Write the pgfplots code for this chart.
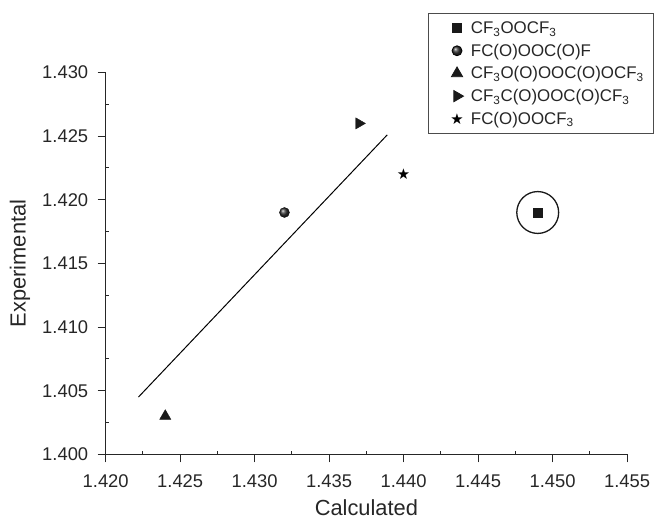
\documentclass[border=0pt]{standalone}
\usepackage{fontspec}
\setmainfont{Liberation Sans}
\newfontfamily\symfont{DejaVu Sans}
\usepackage{pgfplots}
\pgfplotsset{compat=1.18}
\begin{document}
\begin{tikzpicture}
\begin{axis}[
  scale only axis, width=523bp, height=383bp,
  xmin=1.420, xmax=1.455, ymin=1.400, ymax=1.430,
  axis lines*=left,
  axis line style={line width=0.9bp, black!85},
  xtick={1.420,1.425,1.430,1.435,1.440,1.445,1.450,1.455},
  ytick={1.400,1.405,1.410,1.415,1.420,1.425,1.430},
  minor tick num=1,
  tick align=outside,
  major tick length=8bp, minor tick length=-3bp,
  tick style={line width=0.9bp, black!85},
  scaled ticks=false,
  /pgf/number format/.cd, fixed, fixed zerofill, precision=3, assume math mode=true,
  /pgfplots/.cd,
  tick label style={font=\fontsize{18.5}{21}\selectfont, text=black!85},
  xticklabel style={yshift=-9bp},
  yticklabel style={xshift=-6bp},
  xlabel={Calculated}, ylabel={Experimental},
  label style={font=\fontsize{22}{25}\selectfont, text=black!85},
  x label style={at={(axis description cs:0.5,0)}, yshift=-54bp, anchor=center},
  y label style={at={(axis description cs:0,0.5)}, yshift=86bp, anchor=center},
  clip=false,
  legend cell align=left,
  legend image code/.code={\path[draw=none,fill=none] (0bp,0bp) -- (29bp,0bp);
    \draw[#1] plot coordinates {(21bp,0bp)};},
  legend style={at={(rel axis cs:0.6176,1.155)}, anchor=north west,
    draw=black!70, line width=0.8bp, font=\fontsize{17}{20}\selectfont,
    row sep=5bp, column sep=4bp, inner xsep=8bp, inner ysep=6bp, text=black!85},
]
\addplot[black, line width=1bp, forget plot] coordinates {(1.4222,1.4045) (1.4389,1.4251)};
\addplot[only marks, mark=square*, mark size=4.5bp, black!90] coordinates {(1.449,1.419)};
\addlegendentry{CF\textsubscript{3}OOCF\textsubscript{3}}
\addplot[only marks, mark=ball, mark size=5bp, ball color=black!80] coordinates {(1.432,1.419)};
\addlegendentry{FC(O)OOC(O)F}
\addplot[only marks, mark=triangle*, mark size=6.5bp, black!90] coordinates {(1.424,1.403)};
\addlegendentry{CF\textsubscript{3}O(O)OOC(O)OCF\textsubscript{3}}
\addplot[only marks, mark=triangle*, mark size=6.5bp, mark options={rotate=-90}, black!90] coordinates {(1.437,1.426)};
\addlegendentry{CF\textsubscript{3}C(O)OOC(O)CF\textsubscript{3}}
\addplot[only marks, mark=text, text mark={\symfont\fontsize{15}{15}\selectfont ★}, black!90] coordinates {(1.440,1.422)};
\addlegendentry{FC(O)OOCF\textsubscript{3}}
\addplot[only marks, mark=o, mark size=21bp, line width=1.3bp, black!90, forget plot] coordinates {(1.449,1.419)};
\end{axis}
\path (current axis.south west) ++(-106bp,-63.3bp) rectangle ++(654bp,519bp);
\end{tikzpicture}
\end{document}
